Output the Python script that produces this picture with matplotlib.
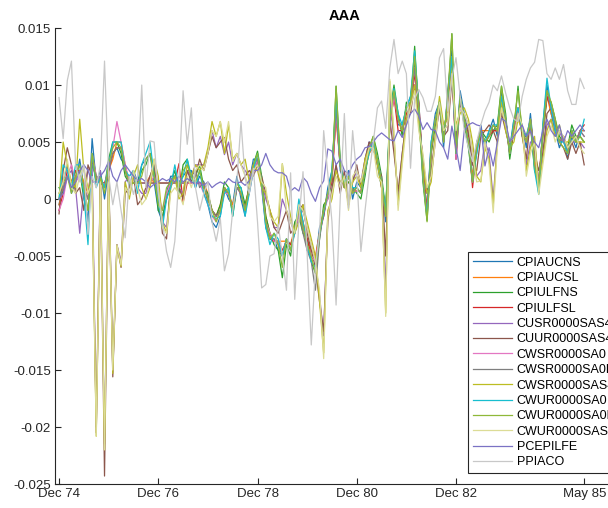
import numpy as np
import matplotlib.pyplot as plt

plt.rcParams['font.family'] = ['Liberation Sans', 'DejaVu Sans']
plt.rcParams['axes.unicode_minus'] = False

# monthly changes, in thousandths
names = ['CPIAUCNS', 'CPIAUCSL', 'CPIULFNS', 'CPIULFSL', 'CUSR0000SAS4',
         'CUUR0000SAS4', 'CWSR0000SA0', 'CWSR0000SA0L', 'CWSR0000SAS4',
         'CWUR0000SA0', 'CWUR0000SA0L', 'CWUR0000SAS4', 'PCEPILFE', 'PPIACO']

tick_pos = [0, 24, 48, 72, 96, 127]
tick_labels = ['Dec 74', 'Dec 76', 'Dec 78', 'Dec 80', 'Dec 82', 'May 85']

cpiaucns = [
    -0.5, 1.5, 3, 0.5, 1.5, 3.5, 1, -2, 5.3, 1.5, 2.5, 0, 2.5, 4, 4.5, 3.5,
    3, 1, 2.5, 1.5, 3, 3.5, 4, 1.5, -1, -2, 0.5, 2, 2, 1.5, 2, 2.5,
    2.5, 1, 2, 1.5, -0.5, -2, -2.5, -1.5, 1, 0, -0.5, 2, 0, -1.5, 1.5, 3.5,
    3.5, 1, -2.5, -3.5, -3.5, -4.5, -5, -3.5, -4, -3, -0.5, -2, -4.5, -5, -5.5, -2.5,
    -1.5, 1, 2.5, 8.5, 2.5, 1.5, 2.5, 0, 1.5, 1, 3, 5, 4.5, 3, 1, -2,
    6.5, 9.5, 6.5, 6.5, 8, 9, 12, 8.5, 2.5, -1, 5, 7.5, 8.5, 4.5, 9.5, 13,
    3.5, 9.5, 7.5, 5.5, 2, 4, 6.5, 4.5, 6, 7, 5.5, 9.5, 6.5, 4.5, 7, 7.5,
    6.5, 4.5, 7.5, 3.5, 0.5, 6.5, 10, 7.5, 6, 4.5, 5.5, 3.5, 5.5, 4.5, 6, 6]

cpiaucsl = [
    -0.5, 1, 2, 1, 2, 2.5, 1.5, 0.5, 3, 2, 1.5, 1, 2.5, 3.5, 5, 5,
    3, 1.4, 1.4, 1.4, 1.4, 1.4, 2, 1.4, 1.4, 1.4, 1.4, 1.4, 1.4, 1.4, 1.4, 1.4,
    1.4, 1.4, 1.4, 1.4, 0.5, -1, -1.5, -0.5, 1, 0.5, -0.5, 1, 0.5, -0.5, 1, 2.5,
    3.5, 1.5, -1.5, -3, -3.7, -3.7, -3.7, -3.7, -4, -2.5, -1, -2, -3.5, -4.5, -5, -3,
    -1, 0.5, 2, 7, 3, 1, 1.5, 0.7, 0.7, 0.7, 2.5, 4, 4.5, 3.5, 1.5, -1,
    6.5, 9, 7, 6, 7.5, 8, 11, 8, 2.5, -1, 4, 7, 8, 5.5, 8.5, 12,
    4.5, 8.5, 7, 5, 2, 4.5, 6, 6, 6, 6, 6, 8.5, 7, 4, 6.5, 7.5,
    6, 5.5, 7, 3.5, 1.5, 5.5, 9, 7.5, 6.5, 5, 5.5, 4.5, 6, 5, 6, 6]

cpiulfns = [
    1, 0.5, 2, 1, 2.5, 2.5, 0, -1, 4, 2, 1.5, 1, 3.5, 5, 5, 4,
    2, 1.4, 1.4, 1.4, 2.5, 3, 4, 2.5, -1, -1.5, 0, 1.5, 2.5, 0.5, 3, 3.5,
    1.5, 2, 3, 1, 0.5, -1, -1.5, -0.5, 1.5, 1, -1.5, 1, 1, -0.5, 1, 3,
    4.2, 2, -1.5, -3, -4, -4.5, -6.9, -4, -5, -2, -1.5, -3, -3.5, -5.5, -6.5, -3.5,
    -0.5, 0, 1.5, 9.9, 3.5, 1, 1.5, 1, 0.5, 0, 2, 4.5, 5.5, 4, 2, -1,
    7.5, 10, 7.5, 5.5, 8.5, 8, 13.4, 7.5, 1.5, -1.9, 4, 6.5, 8.5, 5.5, 8.5, 14.5,
    4.5, 8.5, 6.5, 4.5, 1.5, 5, 6, 5.5, 5, 6, 6.5, 9.9, 7.5, 3.5, 6, 9.9,
    5.5, 5.5, 6.5, 2.5, 1.5, 5.5, 9, 8.5, 7, 5.5, 5, 4.5, 6.5, 5.5, 5.5, 5]

cpiulfsl = [
    -1, 0.5, 2.5, 1.5, 2.5, 2.5, 1, 0, 3.5, 1.5, 1.5, 1.4, 2.5, 4, 4.5, 4.5,
    2.5, 1.4, 1.4, 1.4, 1.4, 1.4, 1.4, 1.4, 1.4, 1.4, 1.4, 1.4, 1.4, 3.1, -0.3, 1.4,
    1.4, 1.4, 1.4, 1, 0, -1, -1.5, -1, 1, 0.5, -1, 1, 0.5, -1, 1, 2.5,
    3.5, 1.5, -2, -3.5, -3.7, -3.7, -4.5, -3.7, -4, -3, -1, -2.5, -3.5, -5, -5.5, -3,
    -1.5, 0.5, 1.5, 7.5, 3, 1, 2, 0.7, 0.7, 0.7, 2.5, 4.5, 4.5, 3.5, 1, -1.5,
    6.5, 9, 6, 6, 7.5, 8, 11, 8.5, 2.5, -1, 4.5, 7, 8, 5, 8.5, 12,
    3.5, 8.5, 7, 5.5, 1, 4.5, 6, 5, 5.5, 6, 6, 8.5, 6.5, 4, 6, 7.5,
    6, 5, 6.5, 3, 1.5, 6, 9, 8, 6.5, 5, 5.5, 4, 6, 5, 6, 6.5]

cusr_sas4 = [
    0, 1.5, 2, 2.5, 1, -3, 1, 2.5, 3, -20, 2.5, -21.5, 2.5, -15, -4, -5.5,
    1.5, 2, 2.5, 1, 0.5, 0.5, 2, 3, 1, -2, -2.5, 1, 2, 1, 0.5, 2.5,
    2, 3, 3, 3, 4, 6, 4.5, 5.5, 3.9, 5, 3, 4, 3, 2.5, 2, 3,
    3, 1.5, 0, -1, -2.5, -2.5, 0, -1, -2, -3, -1.5, -1, -2.5, -4, -5.5, -8.5,
    -12, -1.5, 0.5, 3, 1, 2, -0.5, 1.5, 2.5, 1.5, 3.5, 5, 4.5, 3, 1.5, -8,
    9, 5, 0, 4, 7, 8, 10, 7, 3.5, 0.5, 2, 5, 8.5, 6, 6.5, 11,
    5.5, 8, 7.5, 6.5, 4, 2, 2.5, 5, 4, 0, 5, 8, 6.5, 5, 5.5, 7.5,
    6, 3, 5, 5, 1.5, 4, 6.5, 7, 5.5, 6, 5, 4.5, 5, 5, 5, 4.5]

cuur_sas4 = [
    -1.3, 2.5, 4.5, 3, 0.5, 1, -1, 3, 2, -20.5, 2, -24.3, 2, -15.6, -4, -6,
    0.5, 1, 2, -0.5, 0, 1, 2, 3, 0.5, -3, -3.5, 1.5, 2, 1, 0, 2.5,
    1.5, 2, 3.5, 2.5, 4, 5.5, 4.5, 5, 5.4, 3.5, 2.5, 3, 1.5, 2, 2.5, 2,
    3, 2, 0.5, -1, -2.5, -3, -2, -1, -3, -2.5, -1, -0.5, -3, -4.5, -6, -9,
    -11.6, -2, 1, 3, 0.5, 2.5, -0.5, 1.5, 3, 1, 3.5, 5, 4.5, 3, 2, -5,
    7, 4, 0.7, 4, 7, 7.5, 10, 7, 3.5, 0.5, 2.5, 5.5, 8, 5.5, 6, 10.5,
    5, 8.5, 7, 6, 3, 2.5, 5.5, 6, 6.5, 6, 5, 7.5, 6, 4.5, 6.5, 8,
    5.5, 3.5, 7, 4, 2.5, 4, 7.5, 8, 6, 5, 4.5, 3.5, 5, 4, 5, 3]

cwsr_sa0 = [
    -1, 0, 2, 3, 1.5, 2, 1, 0, 4, 2, 1.5, 1, 3, 4.5, 6.8, 5,
    3, 1.4, 1.4, 1.4, 1.4, 1.4, 1.4, 2, 0.5, -1, 0.5, 1.4, 1.4, 1.4, 1.4, 1.4,
    1.4, 1.4, 1.4, 0.5, -0.5, -1.5, -2, -1, 0.5, 0.5, -1, 1, 0.5, -1, 0.5, 2.5,
    3.5, 1, -2, -3, -3.7, -3.7, -5, -3.5, -4.5, -3, -1, -2.5, -4, -5, -5.5, -3,
    -1, 0, 2, 7.5, 3, 1.5, 2, 0.7, 0.7, 0.7, 2.5, 4.5, 5, 3.5, 1.5, -1.5,
    6.5, 9, 7, 6, 8, 8.5, 11.5, 8, 2, -1.5, 4.5, 7, 8.5, 5, 9, 12.5,
    3.5, 9, 7, 5, 1.5, 4.5, 6, 5, 5.5, 6.5, 6, 9, 7, 4, 6.5, 8,
    6, 5, 7, 3, 1, 6, 9.5, 8, 6.5, 5, 5.5, 4, 6, 5, 6, 5.5]

cwsr_sa0l = [
    0, 1, 2, 1, 2, 2.5, 1, 0, 3, 2, 1.5, 1, 2.5, 4, 4.5, 4.5,
    2.5, 1.4, 1.4, 1.4, 1.4, 1.4, 1.4, 1.4, 1.4, 1.4, 1.4, 1.4, 1.4, 1.4, 1.4, 1.4,
    2, 2.5, 1, 1.5, 0, -1, -1.5, -1, 1, 0.5, -1, 1, 0.5, -1, 1, 3,
    3.5, 1.5, -2, -3.5, -3.5, -4, -5, -3.5, -4.5, -2.5, -1, -3, -4.5, -5.5, -8, -3.5,
    -1, 0.5, 2, 8, 3, 1, 2, 0.7, 1, 0.5, 2.5, 4.5, 5, 3.5, 1.5, -1.5,
    7, 9.5, 7, 6, 8, 8.5, 11.5, 8, 2, -1.5, 4.5, 7, 8.5, 5, 9, 12.5,
    4, 9, 7, 5, 1.5, 4.5, 6, 5, 5.5, 6.5, 6, 9, 7, 4, 6.5, 8,
    6, 5, 7, 3, 1, 6, 9.5, 8, 6.5, 5, 5.5, 4, 6, 5, 6, 5.5]

cwsr_sas4 = [
    0, 5, 3, 1.5, 1, 7, 2.5, 1, 1, -20.8, 2, -22, 2.5, -15.3, -4.1, -5.9,
    1.5, 0, 2, 3, 1, 0, 1, 3.5, 2, -2, -3, 1, 2, 0, 0.5, 3,
    2, 3, 2.5, 3, 4.5, 6.8, 5.5, 6.8, 4, 6.5, 3.5, 4, 3, 3.5, 1.5, 3,
    2.5, 1, 0.5, -1, -2, -2.5, 3.1, 0.5, -1.5, -3, -2, -0.5, -2, -3.5, -5, -9,
    -13.5, -1, 0, 2.5, 1.5, 2, -0.5, 1.5, 2, 1, 3.5, 4.5, 5, 3, 1, -10,
    10.3, 5.5, -0.5, 3.5, 7, 8.5, 10, 6.5, 3, 0.5, 1.5, 5.5, 9, 6.5, 7, 11.5,
    6.5, 7.5, 8, 7, 5, 2, 1.5, 4.5, 3.5, -0.5, 5, 8.5, 6, 4.5, 5, 7,
    6, 2.5, 4.5, 5.5, 1, 3.5, 6, 7, 5.5, 6.5, 5, 5, 5.5, 5, 5, 5]

cwur_sa0 = [
    0, 3, 2.5, 1, 3, 3, 0.5, -4, 4, 1, 2, 1, 3, 5, 5, 5,
    2.5, 2, 2.5, 0.5, 3, 4, 5, 2, 0, -2.5, 0, 1, 3, 1, 2, 3.5,
    2, 1, 2.5, 0.5, -0.5, -1.5, -1.7, -1.5, 0.5, 1, -1.5, 1.5, 1, -1.5, 0.5, 2.5,
    4, 1.5, -2.5, -4, -3, -3.5, -5, -3.5, -4.5, -3, 0, -2, -4, -5.5, -6, -3,
    -1.3, 0.5, 2.5, 9, 3, 1.5, 2, 1, 1, 0.5, 2.5, 4, 5, 3.5, 1.5, -1,
    7, 9.7, 7.5, 6.5, 8, 9, 13, 8, 2, -1.5, 5, 7, 8.5, 5, 9, 12.5,
    4, 9, 7, 5, 1.5, 4, 6, 5, 6, 6.5, 6.5, 9, 7, 4, 7, 8,
    6, 5.5, 7, 2.5, 0.4, 6.5, 10.6, 8, 6, 5, 5, 4, 6, 5, 5.5, 7]

cwur_sa0l = [
    0.5, 1.5, 2, 0.5, 2, 3, 1, -1, 4, 1.5, 2, 0.5, 3, 4.5, 5, 4.5,
    2.5, 1.4, 1.4, 1.4, 2, 3.5, 4, 2, -0.5, -1, 1, 1.5, 2, 1, 2.5, 3,
    2, 1.5, 2.5, 1, 0, -1, -2, -1, 1, 0.5, -1, 1.5, 0.5, -1, 1, 3,
    4, 1.5, -2, -3.5, -3, -4, -6, -3.5, -4.5, -2.5, -1, -2.5, -4, -5, -6.5, -3,
    -1, 0.5, 2, 9.9, 3, 1, 2, 0.5, 1, 0.5, 2.5, 4.5, 5.5, 3.5, 1.5, -1.5,
    7, 9.5, 7, 6, 8, 8.5, 12.5, 8, 2, -2, 4.5, 7, 8.5, 5, 9, 14.5,
    4, 9, 7, 5, 1.5, 4.5, 6, 5, 5.5, 6.5, 6, 9.9, 7, 4, 6.5, 9.5,
    6, 5, 7, 3, 1, 6, 9.5, 8.5, 7, 5, 4.5, 4, 6, 5, 5.5, 5]

cwur_sas4 = [
    0.5, 1.5, 3.5, 1, 0.5, 2, 3, 0.5, 1.5, -20.8, 1.5, -22, 1.5, -15, -4, -5.8,
    1, 0.5, 2.5, 1, -0.5, 0, 1.5, 3.5, 1, -2.5, -3, 0.5, 1, 0.5, -0.5, 2,
    1, 2.5, 3, 2.5, 4, 6, 5.5, 6.8, 5, 6.8, 3.3, 4, 3, 2, 1, 2.5,
    3, 1.5, 1, -1.5, -2, -1.5, 3.1, -1, -2, -3, -0.5, -1, -2.5, -4, -5.5, -8,
    -14, -1.5, 0.5, 2, 1, 2, -1, 2, 2.5, 1.5, 3, 4.5, 4.5, 2, 1.5, -10.3,
    10.5, 6, -1, 3, 6.5, 8, 9.5, 6, 4, 1, 2, 5, 8.5, 6, 6.5, 11,
    6, 8, 7.5, 6.5, 4, 1.5, 1.6, 5, 3, -1.2, 4.5, 8, 6.5, 5, 5.5, 7.5,
    6.5, 2, 4, 5, 0.4, 3, 5.5, 6.5, 5, 6, 5.5, 4.5, 5, 5.5, 4.5, 4]

pcepilfe = [
    0, 0.5, 2, 1, 1.5, 2.5, 3, 2.5, 1.5, 1.5, 2, 2.5, 3.3, 2, 1.5, 2.5,
    3, 2.5, 2, 1.6, 1.8, 1.5, 1, 1.3, 1.5, 1.8, 1.6, 1.8, 1.5, 2, 1.5, 1.8,
    1.5, 1.3, 1.5, 1.2, 1.5, 1, 1.3, 1.5, 1.3, 1.8, 1.5, 1.4, 1.5, 1.2, 1.6, 2.5,
    2.5, 3, 4, 3, 2.5, 2.3, 2.3, 2, 0.7, 1, 0.7, 1.9, 1.5, 0.5, -0.2, 1,
    1.6, 4.4, 4.2, 3, 3.5, 2.5, 2.2, 3, 3.5, 3.8, 4.5, 4.6, 5, 5.5, 5.8, 5.5,
    5.2, 5.1, 6, 5.4, 6.5, 7.5, 7.9, 7.3, 6.1, 6.7, 6.1, 6, 5, 4.5, 3.5, 6.4,
    4.5, 2.5, 6, 6.5, 6.7, 6.5, 6.4, 2.9, 4.5, 2.9, 5, 7.1, 6.8, 5, 5.5, 6,
    6.5, 5.5, 6, 5, 4.5, 6, 7, 6, 5.5, 6.5, 5, 6, 5.5, 6, 6.5, 6]

ppiaco = [
    8.9, 5.3, 10.4, 12.1, 3, 1.5, 3, -3.1, 2, 1, 3, 12.1, 2, -0.5, 1.5, -1,
    -3.4, 2, 0.4, 2, 10, 1, 5.1, 5, 0.5, -2, -4.6, -6, -3.7, 2, 9.5, 4.8,
    8, 1, -1, 0.5, 1.5, -2, -3.7, -1.7, -6.3, -4.8, -1, 1.5, 6.8, 1.8, 0.5, 2.7,
    -2, -7.8, -7.5, -5, -4.8, -2.2, -5, -8, 2.3, -8.8, -2, 2.4, -4.8, -12.8, -6, -3,
    6, 2.2, -2, -9.3, 0, 7.5, -0.8, 6, 2, -4.6, -1, 2.2, 5, 8, 8.6, 6.2,
    11.5, 14, 11, 12.1, 11, 2.7, 8.8, 9.6, 8.9, 7.7, 7.7, 9, 12.4, 13.2, 7.7, 10.6,
    12.4, 9, 6, 4.5, 3.3, 5, 6.5, 7.7, 8.5, 10, 9.5, 10.8, 9.3, 8, 7, 6.8,
    9, 10.5, 11.5, 12, 14, 13.9, 11, 10.5, 11.5, 10.5, 11.8, 9.5, 8.3, 8.3, 10.6, 9.7]

series = [cpiaucns, cpiaucsl, cpiulfns, cpiulfsl, cusr_sas4, cuur_sas4,
          cwsr_sa0, cwsr_sa0l, cwsr_sas4, cwur_sa0, cwur_sa0l, cwur_sas4,
          pcepilfe, ppiaco]

colors = ['#1f77b4', '#ff7f0e', '#2ca02c', '#d62728', '#9467bd', '#8c564b',
          '#e377c2', '#7f7f7f', '#bcbd22', '#17becf', '#8fb838', '#dcdc96',
          '#7b72c4', '#c8c8c8']

fig = plt.figure(figsize=(6.08, 5.08), dpi=100)
ax = fig.add_axes([0.0905, 0.0472, 0.954, 0.8976])

for name, vals, c in zip(names, series, colors):
    y = np.array(vals) / 1000.0
    ax.plot(np.arange(len(y)), y, color=c, lw=0.9, label=name)

ax.set_xlim(-0.97, 139.3)
ax.set_ylim(-0.025, 0.015)
ax.set_yticks([-0.025, -0.02, -0.015, -0.01, -0.005, 0, 0.005, 0.01, 0.015])
ax.set_yticklabels(['-0.025', '-0.02', '-0.015', '-0.01', '-0.005', '0',
                    '0.005', '0.01', '0.015'])
ax.set_xticks(tick_pos)
ax.set_xticklabels(tick_labels)
ax.tick_params(direction='in', length=4, width=0.8, labelsize=9.5,
               colors='#262626', pad=3)
for s in ['top', 'right']:
    ax.spines[s].set_visible(False)
for s in ['left', 'bottom']:
    ax.spines[s].set_color('#262626')
    ax.spines[s].set_linewidth(0.8)

ax.set_title('AAA', fontsize=10.5, fontweight='bold', pad=6)

# legend box sits in the lower right and runs past the figure edge
leg = ax.legend(loc='lower left', bbox_to_anchor=(0.702, 0.011), fontsize=9,
                handlelength=3.1, handletextpad=0.4, labelspacing=0.27,
                borderpad=0.35, fancybox=False, framealpha=1,
                edgecolor='#262626')
leg.get_frame().set_linewidth(0.8)

fig.savefig('out.png', dpi=100)
